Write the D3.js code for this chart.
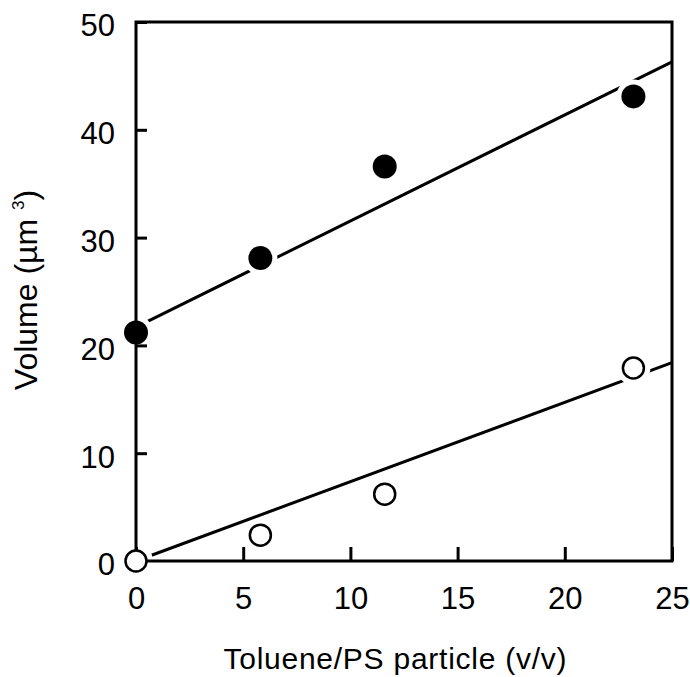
<!DOCTYPE html>
<html lang="en">
    <head>
        <meta charset="utf-8">
        <title>Volume vs toluene</title>
        <script src="https://cdn.jsdelivr.net/npm/d3@7"></script>
        <style>
            body { margin: 0; background: #fff; }
            text { font-family: "Liberation Sans", Arial, sans-serif; fill: #000; }
        </style>
    </head>
    <body>
        <script>
            // data
            var ratio = [0, 5.8, 11.6, 23.2];          // toluene / PS particle (v/v)
            var volFilled = [21.2, 28.1, 36.6, 43.1];  // filled circles
            var volOpen = [0, 2.4, 6.2, 17.9];         // open circles
            var fitX = [0, 25];
            var fitFilled = [21.7, 46.3];
            var fitOpen = [0, 18.4];
            var xTicks = [0, 5, 10, 15, 20, 25];
            var yTicks = [0, 10, 20, 30, 40, 50];

            var w = 690, h = 677;
            var mLeft = 136, mRight = 672, mTop = 22, mBottom = 561;

            var svg = d3.select("body").append("svg").attr("width", w).attr("height", h);

            var x = d3.scaleLinear().domain([0, 25]).range([mLeft, mRight]);
            var y = d3.scaleLinear().domain([0, 50]).range([mBottom, mTop]);

            // fit lines
            var line = d3.line().x(function(d){return x(d[0])}).y(function(d){return y(d[1])});
            [fitFilled, fitOpen].forEach(function(f) {
                svg.append("path")
                    .datum(d3.zip(fitX, f))
                    .attr("d", line)
                    .attr("fill", "none")
                    .attr("stroke", "#000")
                    .attr("stroke-width", 3);
            });

            // white gap round each marker
            var pts = d3.zip(ratio, volFilled).concat(d3.zip(ratio, volOpen));
            svg.selectAll("circle.halo")
                .data(pts)
                .enter()
                .append("circle")
                .attr("class", "halo")
                .attr("cx", function(d){return x(d[0])})
                .attr("cy", function(d){return y(d[1])})
                .attr("r", 17)
                .attr("fill", "#fff");

            // frame
            svg.append("rect")
                .attr("x", mLeft).attr("y", mTop)
                .attr("width", mRight - mLeft).attr("height", mBottom - mTop)
                .attr("fill", "none").attr("stroke", "#000").attr("stroke-width", 3);

            var xAxis = svg.append("g")
                .attr("transform", "translate(0," + mBottom + ")")
                .call(d3.axisBottom(x).tickValues(xTicks).tickSize(-14).tickPadding(26));
            var yAxis = svg.append("g")
                .attr("transform", "translate(" + mLeft + ",0)")
                .call(d3.axisLeft(y).tickValues(yTicks).tickSize(-11).tickPadding(21));

            [xAxis, yAxis].forEach(function(g) {
                g.select(".domain").remove();
                g.selectAll("line").attr("stroke-width", 3);
                g.selectAll("text").attr("font-size", 31).attr("font-family", "Liberation Sans, Arial, sans-serif");
            });
            yAxis.selectAll("text").attr("dy", "0.45em");

            // markers
            svg.selectAll("circle.filled")
                .data(d3.zip(ratio, volFilled))
                .enter()
                .append("circle")
                .attr("class", "filled")
                .attr("cx", function(d){return x(d[0])})
                .attr("cy", function(d){return y(d[1])})
                .attr("r", 12)
                .attr("fill", "#000");

            svg.selectAll("circle.open")
                .data(d3.zip(ratio, volOpen))
                .enter()
                .append("circle")
                .attr("class", "open")
                .attr("cx", function(d){return x(d[0])})
                .attr("cy", function(d){return y(d[1])})
                .attr("r", 10.5)
                .attr("fill", "#fff")
                .attr("stroke", "#000")
                .attr("stroke-width", 2.5);

            // axis titles
            svg.append("text")
                .attr("x", 395).attr("y", 669)
                .attr("text-anchor", "middle")
                .attr("font-size", 30)
                .attr("textLength", 343)
                .attr("lengthAdjust", "spacing")
                .text("Toluene/PS particle (v/v)");

            var yt = svg.append("text")
                .attr("transform", "translate(37,290) rotate(-90)")
                .attr("text-anchor", "middle")
                .attr("font-size", 32);
            yt.append("tspan").text("Volume (\u00b5m ");
            yt.append("tspan").attr("font-size", 17).attr("dy", -13).text("3");
            yt.append("tspan").attr("dy", 13).text(")");
        </script>
    </body>
</html>
